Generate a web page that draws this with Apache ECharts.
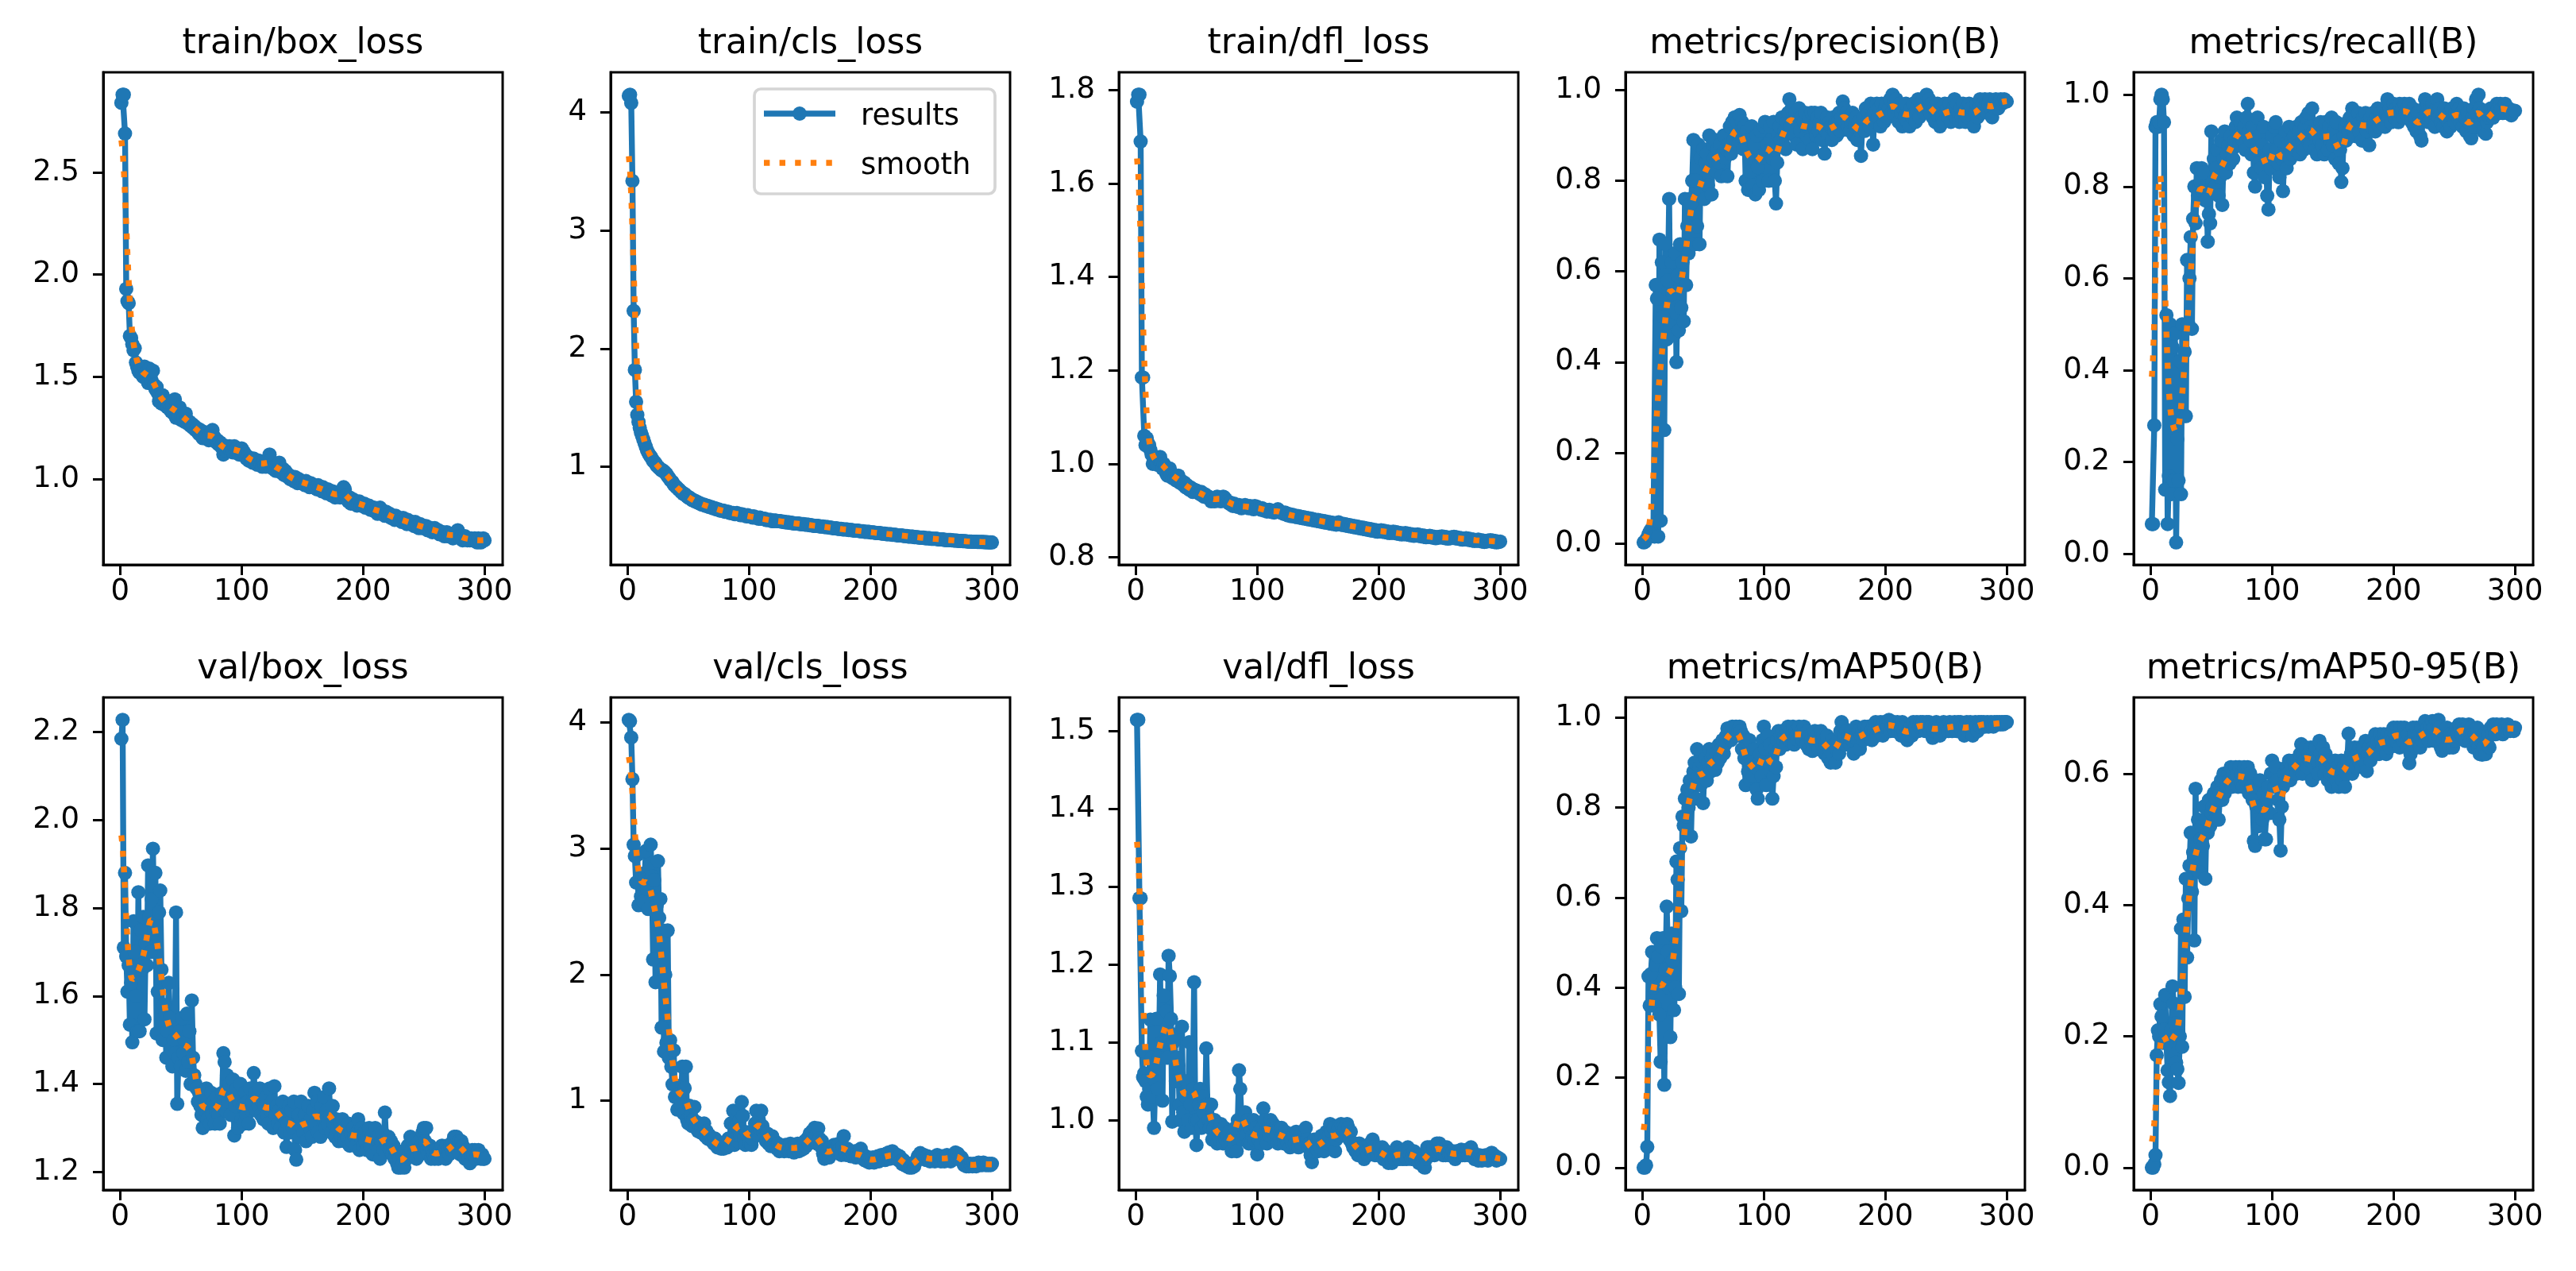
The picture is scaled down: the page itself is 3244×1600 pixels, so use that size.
<!DOCTYPE html>
<html>
<head>
<meta charset="utf-8">
<script src="https://cdn.jsdelivr.net/npm/echarts@6/dist/echarts.min.js"></script>
<style>
  html, body { margin: 0; padding: 0; background: #fff; }
  #main { width: 3244px; height: 1600px; }
</style>
</head>
<body>
<div id="main"></div>
<script>
// epochs 1..300 (x values)
const epochs = Array.from({ length: 300 }, (_, i) => i + 1);

const titles = ['train/box_loss', 'train/cls_loss', 'train/dfl_loss', 'metrics/precision(B)', 'metrics/recall(B)',
  'val/box_loss', 'val/cls_loss', 'val/dfl_loss', 'metrics/mAP50(B)', 'metrics/mAP50-95(B)'];

const xTicks = [0, 100, 200, 300];

// y tick values per subplot and number of decimals shown
const yTicks = [
  [1.0, 1.5, 2.0, 2.5],
  [1, 2, 3, 4],
  [0.8, 1.0, 1.2, 1.4, 1.6, 1.8],
  [0.0, 0.2, 0.4, 0.6, 0.8, 1.0],
  [0.0, 0.2, 0.4, 0.6, 0.8, 1.0],
  [1.2, 1.4, 1.6, 1.8, 2.0, 2.2],
  [1, 2, 3, 4],
  [1.0, 1.1, 1.2, 1.3, 1.4, 1.5],
  [0.0, 0.2, 0.4, 0.6, 0.8, 1.0],
  [0.0, 0.2, 0.4, 0.6]
];
const yDecimals = [1, 0, 1, 1, 1, 1, 0, 1, 1, 1];

const legendNames = ['results', 'smooth'];

const trainBoxLoss = [
  2.84, 2.88, 2.88, 2.69, 1.93, 1.87, 1.86, 1.70, 1.69, 1.66,
  1.63, 1.64, 1.57, 1.55, 1.53, 1.52, 1.54, 1.51, 1.50, 1.55,
  1.52, 1.49, 1.47, 1.54, 1.50, 1.48, 1.53, 1.46, 1.44, 1.45,
  1.42, 1.38, 1.40, 1.37, 1.41, 1.39, 1.36, 1.38, 1.35, 1.37,
  1.34, 1.33, 1.36, 1.32, 1.39, 1.30, 1.33, 1.31, 1.35, 1.29,
  1.31, 1.30, 1.28, 1.32, 1.29, 1.27, 1.28, 1.26, 1.27, 1.25,
  1.26, 1.24, 1.25, 1.23, 1.22, 1.24, 1.21, 1.20, 1.23, 1.22,
  1.21, 1.20, 1.19, 1.22, 1.23, 1.24, 1.21, 1.20, 1.18, 1.19,
  1.17, 1.18, 1.16, 1.17, 1.12, 1.15, 1.14, 1.16, 1.15, 1.16,
  1.14, 1.15, 1.13, 1.16, 1.14, 1.15, 1.13, 1.12, 1.14, 1.15,
  1.14, 1.13, 1.12, 1.10, 1.11, 1.09, 1.10, 1.09, 1.08, 1.10,
  1.09, 1.08, 1.07, 1.09, 1.08, 1.07, 1.06, 1.08, 1.07, 1.06,
  1.08, 1.10, 1.12, 1.09, 1.07, 1.05, 1.06, 1.04, 1.06, 1.05,
  1.08, 1.04, 1.03, 1.05, 1.02, 1.04, 1.03, 1.01, 1.02, 1.00,
  1.01, 1.00, 0.99, 1.01, 0.99, 0.98, 1.00, 0.99, 0.98, 0.99,
  0.98, 0.97, 0.99, 0.98, 0.97, 0.96, 0.98, 0.97, 0.96, 0.97,
  0.96, 0.95, 0.97, 0.96, 0.95, 0.94, 0.96, 0.95, 0.94, 0.93,
  0.95, 0.94, 0.93, 0.92, 0.94, 0.93, 0.91, 0.92, 0.93, 0.92,
  0.91, 0.93, 0.94, 0.96, 0.95, 0.92, 0.90, 0.89, 0.91, 0.88,
  0.89, 0.90, 0.88, 0.89, 0.87, 0.88, 0.89, 0.87, 0.88, 0.87,
  0.88, 0.86, 0.87, 0.86, 0.87, 0.85, 0.86, 0.85, 0.86, 0.84,
  0.85, 0.83, 0.84, 0.86, 0.85, 0.84, 0.83, 0.82, 0.84, 0.83,
  0.82, 0.83, 0.81, 0.82, 0.81, 0.80, 0.82, 0.81, 0.80, 0.81,
  0.80, 0.79, 0.81, 0.80, 0.79, 0.78, 0.80, 0.79, 0.78, 0.79,
  0.78, 0.77, 0.79, 0.78, 0.77, 0.76, 0.78, 0.77, 0.76, 0.77,
  0.76, 0.77, 0.75, 0.76, 0.75, 0.76, 0.74, 0.75, 0.76, 0.75,
  0.74, 0.75, 0.73, 0.74, 0.73, 0.74, 0.72, 0.73, 0.74, 0.72,
  0.73, 0.72, 0.73, 0.71, 0.72, 0.73, 0.74, 0.75, 0.72, 0.71,
  0.72, 0.70, 0.71, 0.72, 0.71, 0.70, 0.71, 0.70, 0.71, 0.70,
  0.70, 0.71, 0.70, 0.69, 0.71, 0.70, 0.69, 0.70, 0.71, 0.70
];

const trainClsLoss = [
  4.14, 4.15, 4.08, 3.42, 2.32, 1.82, 1.55, 1.44, 1.38, 1.33,
  1.29, 1.26, 1.23, 1.20, 1.17, 1.14, 1.12, 1.10, 1.09, 1.07,
  1.05, 1.04, 1.03, 1.01, 1.00, 0.99, 0.98, 0.97, 0.97, 0.96,
  0.95, 0.94, 0.92, 0.91, 0.89, 0.88, 0.87, 0.85, 0.84, 0.83,
  0.82, 0.81, 0.80, 0.79, 0.78, 0.77, 0.77, 0.76, 0.75, 0.74,
  0.74, 0.73, 0.72, 0.72, 0.71, 0.71, 0.70, 0.70, 0.69, 0.69,
  0.68, 0.68, 0.68, 0.67, 0.67, 0.67, 0.66, 0.66, 0.66, 0.65,
  0.65, 0.65, 0.64, 0.64, 0.64, 0.63, 0.63, 0.63, 0.63, 0.62,
  0.62, 0.62, 0.62, 0.61, 0.61, 0.61, 0.61, 0.60, 0.60, 0.61,
  0.60, 0.60, 0.59, 0.60, 0.59, 0.59, 0.59, 0.58, 0.59, 0.58,
  0.58, 0.58, 0.57, 0.58, 0.57, 0.57, 0.57, 0.56, 0.57, 0.56,
  0.56, 0.56, 0.56, 0.55, 0.55, 0.55, 0.55, 0.55, 0.54, 0.54,
  0.545, 0.545, 0.54, 0.54, 0.54, 0.54, 0.535, 0.535, 0.535, 0.53,
  0.53, 0.53, 0.53, 0.525, 0.525, 0.525, 0.52, 0.52, 0.52, 0.52,
  0.52, 0.515, 0.515, 0.515, 0.515, 0.51, 0.51, 0.51, 0.51, 0.505,
  0.505, 0.505, 0.50, 0.50, 0.50, 0.50, 0.50, 0.495, 0.495, 0.495,
  0.495, 0.49, 0.49, 0.49, 0.49, 0.485, 0.485, 0.485, 0.48, 0.48,
  0.48, 0.48, 0.475, 0.475, 0.475, 0.475, 0.47, 0.47, 0.47, 0.47,
  0.47, 0.465, 0.465, 0.465, 0.465, 0.46, 0.46, 0.46, 0.46, 0.46,
  0.455, 0.455, 0.455, 0.455, 0.45, 0.45, 0.45, 0.45, 0.45, 0.445,
  0.445, 0.445, 0.445, 0.44, 0.44, 0.44, 0.44, 0.44, 0.435, 0.435,
  0.435, 0.435, 0.43, 0.43, 0.43, 0.43, 0.43, 0.425, 0.425, 0.425,
  0.425, 0.42, 0.42, 0.42, 0.42, 0.42, 0.415, 0.415, 0.415, 0.415,
  0.41, 0.41, 0.41, 0.41, 0.41, 0.405, 0.405, 0.405, 0.405, 0.40,
  0.40, 0.40, 0.40, 0.40, 0.395, 0.395, 0.395, 0.395, 0.395, 0.39,
  0.39, 0.39, 0.39, 0.39, 0.39, 0.385, 0.385, 0.385, 0.385, 0.385,
  0.38, 0.38, 0.38, 0.38, 0.38, 0.38, 0.378, 0.377, 0.376, 0.375,
  0.375, 0.374, 0.373, 0.372, 0.372, 0.371, 0.37, 0.37, 0.369, 0.368,
  0.368, 0.367, 0.367, 0.366, 0.366, 0.365, 0.365, 0.364, 0.364, 0.364,
  0.363, 0.363, 0.363, 0.362, 0.362, 0.362, 0.361, 0.361, 0.361, 0.36
];

const trainDflLoss = [
  1.775, 1.79, 1.79, 1.69, 1.185, 1.185, 1.06, 1.04, 1.055, 1.045,
  1.04, 1.03, 1.02, 1.00, 1.01, 1.005, 1.00, 0.998, 1.01, 1.015,
  1.005, 0.99, 1.00, 0.995, 0.98, 0.975, 0.985, 0.99, 0.98, 0.97,
  0.975, 0.97, 0.965, 0.97, 0.975, 0.96, 0.965, 0.96, 0.955, 0.96,
  0.95, 0.955, 0.95, 0.945, 0.95, 0.945, 0.94, 0.945, 0.94, 0.943,
  0.94, 0.938, 0.935, 0.94, 0.935, 0.93, 0.935, 0.93, 0.928, 0.93,
  0.926, 0.92, 0.925, 0.922, 0.92, 0.925, 0.93, 0.928, 0.925, 0.92,
  0.925, 0.93, 0.928, 0.924, 0.92, 0.918, 0.915, 0.917, 0.912, 0.91,
  0.915, 0.912, 0.91, 0.908, 0.912, 0.91, 0.905, 0.91, 0.908, 0.912,
  0.91, 0.908, 0.905, 0.91, 0.907, 0.905, 0.903, 0.91, 0.905, 0.908,
  0.906, 0.904, 0.902, 0.905, 0.903, 0.9, 0.902, 0.898, 0.9, 0.902,
  0.9, 0.897, 0.899, 0.896, 0.898, 0.9, 0.903, 0.9, 0.897, 0.895,
  0.895, 0.893, 0.896, 0.892, 0.89, 0.893, 0.89, 0.888, 0.891, 0.889,
  0.887, 0.889, 0.886, 0.888, 0.885, 0.887, 0.884, 0.886, 0.883, 0.885,
  0.882, 0.884, 0.881, 0.883, 0.88, 0.882, 0.879, 0.88, 0.878, 0.88,
  0.877, 0.879, 0.876, 0.878, 0.875, 0.877, 0.874, 0.876, 0.873, 0.875,
  0.872, 0.874, 0.871, 0.873, 0.87, 0.872, 0.875, 0.873, 0.87, 0.872,
  0.869, 0.871, 0.868, 0.87, 0.867, 0.869, 0.866, 0.868, 0.865, 0.867,
  0.864, 0.866, 0.863, 0.865, 0.862, 0.864, 0.861, 0.863, 0.86, 0.862,
  0.859, 0.861, 0.858, 0.86, 0.857, 0.859, 0.856, 0.858, 0.855, 0.857,
  0.856, 0.858, 0.855, 0.857, 0.854, 0.856, 0.853, 0.855, 0.852, 0.854,
  0.853, 0.855, 0.852, 0.854, 0.851, 0.853, 0.85, 0.852, 0.849, 0.851,
  0.85, 0.852, 0.849, 0.851, 0.848, 0.85, 0.847, 0.849, 0.846, 0.848,
  0.847, 0.849, 0.846, 0.848, 0.845, 0.847, 0.844, 0.846, 0.843, 0.845,
  0.844, 0.846, 0.843, 0.845, 0.842, 0.844, 0.841, 0.843, 0.842, 0.844,
  0.843, 0.845, 0.842, 0.844, 0.841, 0.843, 0.84, 0.842, 0.841, 0.843,
  0.842, 0.844, 0.841, 0.843, 0.84, 0.842, 0.839, 0.841, 0.838, 0.84,
  0.839, 0.841, 0.838, 0.84, 0.837, 0.839, 0.836, 0.838, 0.835, 0.837,
  0.836, 0.838, 0.835, 0.837, 0.834, 0.836, 0.833, 0.835, 0.834, 0.836,
  0.835, 0.837, 0.834, 0.836, 0.833, 0.835, 0.832, 0.834, 0.833, 0.834
];

const precision = [
  0.002, 0.003, 0.008, 0.012, 0.020, 0.025, 0.030, 0.022, 0.018, 0.015,
  0.57, 0.54, 0.015, 0.67, 0.05, 0.62, 0.50, 0.25, 0.66, 0.45,
  0.58, 0.76, 0.48, 0.62, 0.55, 0.46, 0.64, 0.40, 0.59, 0.47,
  0.66, 0.52, 0.62, 0.49, 0.76, 0.57, 0.70, 0.64, 0.76, 0.75,
  0.80, 0.89, 0.66, 0.80, 0.70, 0.88, 0.66, 0.85, 0.78, 0.87,
  0.76, 0.84, 0.86, 0.79, 0.90, 0.83, 0.77, 0.88, 0.85, 0.89,
  0.82, 0.87, 0.84, 0.88, 0.81, 0.86, 0.90, 0.85, 0.87, 0.81,
  0.88, 0.92, 0.86, 0.93, 0.89, 0.94, 0.91, 0.93, 0.88, 0.945,
  0.90, 0.93, 0.87, 0.92, 0.80, 0.91, 0.78, 0.89, 0.82, 0.92,
  0.79, 0.88, 0.77, 0.90, 0.83, 0.78, 0.91, 0.85, 0.80, 0.92,
  0.93, 0.86, 0.88, 0.80, 0.92, 0.87, 0.85, 0.93, 0.80, 0.75,
  0.84, 0.90, 0.92, 0.89, 0.94, 0.88, 0.91, 0.87, 0.93, 0.95,
  0.98, 0.92, 0.96, 0.94, 0.90, 0.95, 0.88, 0.93, 0.96, 0.91,
  0.94, 0.87, 0.93, 0.95, 0.90, 0.92, 0.94, 0.89, 0.95, 0.87,
  0.92, 0.95, 0.90, 0.94, 0.91, 0.93, 0.95, 0.89, 0.92, 0.86,
  0.91, 0.94, 0.90, 0.93, 0.92, 0.89, 0.94, 0.91, 0.93, 0.90,
  0.93, 0.95, 0.91, 0.94, 0.975, 0.96, 0.93, 0.95, 0.92, 0.94,
  0.91, 0.93, 0.95, 0.90, 0.92, 0.94, 0.89, 0.93, 0.91, 0.855,
  0.92, 0.94, 0.91, 0.96, 0.93, 0.95, 0.92, 0.97, 0.94, 0.88,
  0.95, 0.93, 0.97, 0.94, 0.96, 0.92, 0.97, 0.95, 0.93, 0.96,
  0.97, 0.94, 0.96, 0.98, 0.95, 0.99, 0.97, 0.95, 0.98, 0.96,
  0.93, 0.97, 0.95, 0.92, 0.96, 0.94, 0.97, 0.93, 0.95, 0.92,
  0.96, 0.94, 0.97, 0.95, 0.93, 0.96, 0.98, 0.94, 0.97, 0.96,
  0.98, 0.95, 0.97, 0.99, 0.96, 0.98, 0.95, 0.97, 0.94, 0.96,
  0.93, 0.95, 0.97, 0.94, 0.92, 0.96, 0.94, 0.93, 0.97, 0.95,
  0.96, 0.94, 0.97, 0.93, 0.95, 0.96, 0.98, 0.94, 0.97, 0.95,
  0.93, 0.96, 0.94, 0.97, 0.95, 0.93, 0.96, 0.94, 0.97, 0.95,
  0.96, 0.94, 0.92, 0.95, 0.97, 0.94, 0.96, 0.98, 0.95, 0.97,
  0.96, 0.98, 0.97, 0.95, 0.97, 0.98, 0.96, 0.94, 0.97, 0.96,
  0.98, 0.97, 0.96, 0.975, 0.98, 0.97, 0.975, 0.98, 0.975, 0.975
];

const recall = [
  0.065, 0.065, 0.28, 0.93, 0.94, 0.93, 0.94, 0.99, 1.0, 0.99,
  0.94, 0.14, 0.52, 0.065, 0.17, 0.50, 0.13, 0.45, 0.16, 0.48,
  0.025, 0.25, 0.16, 0.42, 0.13, 0.50, 0.30, 0.44, 0.30, 0.64,
  0.50, 0.60, 0.69, 0.49, 0.73, 0.80, 0.72, 0.84, 0.78, 0.80,
  0.81, 0.84, 0.79, 0.83, 0.77, 0.80, 0.68, 0.74, 0.72, 0.92,
  0.81, 0.86, 0.80, 0.84, 0.88, 0.78, 0.82, 0.90, 0.76, 0.86,
  0.92, 0.83, 0.87, 0.89, 0.85, 0.91, 0.88, 0.86, 0.90, 0.93,
  0.95, 0.91, 0.89, 0.94, 0.92, 0.90, 0.93, 0.88, 0.95, 0.98,
  0.92, 0.90, 0.87, 0.93, 0.83, 0.80, 0.88, 0.95, 0.85, 0.91,
  0.84, 0.89, 0.93, 0.82, 0.87, 0.78, 0.75, 0.88, 0.84, 0.91,
  0.86, 0.93, 0.94, 0.88, 0.85, 0.82, 0.90, 0.86, 0.79, 0.87,
  0.92, 0.84, 0.89, 0.93, 0.86, 0.90, 0.87, 0.91, 0.88, 0.93,
  0.89, 0.92, 0.87, 0.94, 0.90, 0.88, 0.93, 0.95, 0.91, 0.96,
  0.89, 0.93, 0.97, 0.92, 0.88, 0.91, 0.87, 0.93, 0.90, 0.94,
  0.89, 0.92, 0.87, 0.94, 0.91, 0.88, 0.93, 0.90, 0.95, 0.89,
  0.92, 0.86, 0.94, 0.90, 0.85, 0.88, 0.81, 0.84, 0.91, 0.93,
  0.90, 0.94, 0.92, 0.95, 0.93, 0.97, 0.94, 0.91, 0.95, 0.93,
  0.96, 0.92, 0.94, 0.90, 0.95, 0.93, 0.96, 0.92, 0.94, 0.89,
  0.95, 0.93, 0.96, 0.94, 0.92, 0.95, 0.97, 0.93, 0.96, 0.94,
  0.95, 0.97, 0.93, 0.96, 0.99, 0.95, 0.97, 0.94, 0.96, 0.98,
  0.95, 0.97, 0.96, 0.94, 0.98, 0.96, 0.97, 0.95, 0.98, 0.96,
  0.97, 0.95, 0.98, 0.96, 0.94, 0.97, 0.93, 0.95, 0.92, 0.96,
  0.94, 0.91, 0.90, 0.95, 0.97, 0.99, 0.96, 0.98, 0.94, 0.97,
  0.95, 0.98, 0.96, 0.93, 0.97, 0.99, 0.95, 0.97, 0.94, 0.96,
  0.93, 0.97, 0.95, 0.92, 0.94, 0.96, 0.93, 0.97, 0.95, 0.94,
  0.96, 0.98, 0.95, 0.97, 0.94, 0.96, 0.93, 0.97, 0.95, 0.92,
  0.96, 0.94, 0.91, 0.905, 0.95, 0.97, 0.93, 0.99, 0.96, 1.0,
  0.97, 0.94, 0.96, 0.92, 0.95, 0.915, 0.94, 0.96, 0.95, 0.97,
  0.96, 0.95, 0.97, 0.96, 0.98, 0.97, 0.96, 0.98, 0.97, 0.96,
  0.97, 0.98, 0.97, 0.96, 0.97, 0.96, 0.955, 0.96, 0.965, 0.965
];

const valBoxLoss = [
  2.185, 2.228, 1.71, 1.88, 1.69, 1.61, 1.67, 1.535, 1.63, 1.495,
  1.77, 1.70, 1.60, 1.52, 1.836, 1.52, 1.75, 1.66, 1.78, 1.547,
  1.72, 1.67, 1.897, 1.78, 1.70, 1.82, 1.935, 1.75, 1.88, 1.515,
  1.61, 1.79, 1.84, 1.66, 1.50, 1.58, 1.56, 1.46, 1.52, 1.63,
  1.55, 1.48, 1.44, 1.50, 1.47, 1.79, 1.355, 1.46, 1.52, 1.44,
  1.55, 1.47, 1.50, 1.43, 1.56, 1.45, 1.52, 1.40, 1.59, 1.46,
  1.42, 1.40, 1.39, 1.36, 1.38, 1.35, 1.33, 1.30, 1.37, 1.34,
  1.39, 1.32, 1.35, 1.31, 1.38, 1.33, 1.36, 1.31, 1.34, 1.37,
  1.33, 1.31, 1.36, 1.38, 1.47, 1.45, 1.34, 1.42, 1.36, 1.40,
  1.33, 1.37, 1.41, 1.283, 1.35, 1.39, 1.30, 1.36, 1.40, 1.32,
  1.35, 1.31, 1.38, 1.33, 1.36, 1.31, 1.39, 1.34, 1.36, 1.425,
  1.38, 1.34, 1.37, 1.35, 1.39, 1.33, 1.36, 1.32, 1.35, 1.37,
  1.33, 1.31, 1.39, 1.34, 1.36, 1.30, 1.395, 1.33, 1.35, 1.31,
  1.34, 1.30, 1.33, 1.36, 1.29, 1.32, 1.257, 1.31, 1.35, 1.29,
  1.34, 1.30, 1.36, 1.25, 1.228, 1.31, 1.33, 1.28, 1.36, 1.30,
  1.29, 1.33, 1.27, 1.31, 1.35, 1.30, 1.32, 1.28, 1.34, 1.38,
  1.31, 1.36, 1.29, 1.33, 1.28, 1.35, 1.32, 1.37, 1.30, 1.34,
  1.31, 1.39, 1.33, 1.29, 1.35, 1.31, 1.28, 1.32, 1.30, 1.27,
  1.31, 1.28, 1.32, 1.29, 1.27, 1.30, 1.28, 1.31, 1.26, 1.29,
  1.27, 1.30, 1.28, 1.26, 1.29, 1.32, 1.25, 1.28, 1.30, 1.26,
  1.29, 1.27, 1.25, 1.28, 1.30, 1.26, 1.28, 1.24, 1.27, 1.30,
  1.26, 1.28, 1.25, 1.23, 1.27, 1.29, 1.25, 1.335, 1.27, 1.26,
  1.28, 1.25, 1.27, 1.24, 1.26, 1.23, 1.25, 1.22, 1.21, 1.23,
  1.21, 1.24, 1.22, 1.21, 1.25, 1.23, 1.26, 1.24, 1.28, 1.25,
  1.27, 1.24, 1.26, 1.23, 1.25, 1.27, 1.24, 1.26, 1.29, 1.30,
  1.27, 1.30, 1.25, 1.24, 1.26, 1.23, 1.25, 1.24, 1.23, 1.25,
  1.24, 1.23, 1.25, 1.24, 1.26, 1.24, 1.25, 1.23, 1.26, 1.25,
  1.24, 1.26, 1.25, 1.27, 1.28, 1.26, 1.28, 1.25, 1.27, 1.24,
  1.27, 1.26, 1.24, 1.23, 1.25, 1.24, 1.23, 1.22, 1.24, 1.25,
  1.24, 1.25, 1.23, 1.24, 1.25, 1.24, 1.23, 1.24, 1.23, 1.23
];

const valClsLoss = [
  4.02, 4.01, 3.88, 3.55, 3.03, 2.94, 2.73, 2.95, 2.55, 2.72,
  2.62, 2.80, 2.58, 2.75, 2.98, 2.68, 2.52, 2.85, 3.03, 2.78,
  2.12, 2.75, 1.94, 2.55, 2.90, 2.45, 2.60, 1.58, 2.35, 1.39,
  2.00, 1.46, 2.35, 1.34, 1.48, 1.27, 1.13, 1.40, 1.03, 1.12,
  0.93, 1.05, 1.00, 0.97, 1.27, 0.90, 1.10, 1.27, 0.85, 0.82,
  0.96, 0.88, 0.80, 0.85, 0.95, 0.79, 0.83, 0.76, 0.81, 0.75,
  0.78, 0.74, 0.82, 0.72, 0.76, 0.70, 0.73, 0.69, 0.71, 0.68,
  0.66, 0.70, 0.65, 0.63, 0.67, 0.64, 0.62, 0.64, 0.62, 0.63,
  0.66, 0.63, 0.70, 0.65, 0.82, 0.69, 0.92, 0.65, 0.80, 0.68,
  0.92, 0.84, 0.72, 0.99, 0.88, 0.70, 0.65, 0.75, 0.72, 0.67,
  0.74, 0.65, 0.70, 0.77, 0.82, 0.92, 0.73, 0.85, 0.78, 0.92,
  0.80, 0.75, 0.71, 0.68, 0.74, 0.66, 0.69, 0.64, 0.72, 0.66,
  0.68, 0.64, 0.62, 0.66, 0.60, 0.64, 0.61, 0.63, 0.60, 0.65,
  0.62, 0.64, 0.60, 0.66, 0.61, 0.63, 0.59, 0.65, 0.62, 0.66,
  0.60, 0.63, 0.61, 0.65, 0.62, 0.68, 0.64, 0.70, 0.66, 0.74,
  0.68, 0.76, 0.70, 0.785, 0.72, 0.66, 0.78, 0.70, 0.64, 0.68,
  0.58, 0.54, 0.62, 0.56, 0.60, 0.55, 0.63, 0.58, 0.61, 0.65,
  0.60, 0.64, 0.59, 0.66, 0.62, 0.57, 0.64, 0.72, 0.60, 0.57,
  0.62, 0.58, 0.60, 0.56, 0.59, 0.57, 0.60, 0.55, 0.58, 0.56,
  0.58, 0.62, 0.55, 0.57, 0.53, 0.56, 0.52, 0.55, 0.51, 0.54,
  0.52, 0.55, 0.51, 0.54, 0.53, 0.56, 0.52, 0.55, 0.57, 0.54,
  0.56, 0.53, 0.58, 0.55, 0.59, 0.54, 0.57, 0.60, 0.56, 0.58,
  0.55, 0.57, 0.53, 0.56, 0.52, 0.50, 0.53, 0.49, 0.51, 0.48,
  0.50, 0.47, 0.49, 0.47, 0.50, 0.48, 0.51, 0.53, 0.56, 0.55,
  0.585, 0.56, 0.54, 0.57, 0.55, 0.53, 0.56, 0.54, 0.52, 0.55,
  0.53, 0.55, 0.52, 0.54, 0.57, 0.53, 0.55, 0.52, 0.56, 0.54,
  0.52, 0.55, 0.57, 0.53, 0.55, 0.52, 0.56, 0.54, 0.57, 0.59,
  0.55, 0.58, 0.56, 0.53, 0.55, 0.52, 0.49, 0.51, 0.48, 0.50,
  0.48, 0.50, 0.49, 0.48, 0.50, 0.49, 0.48, 0.50, 0.51, 0.49,
  0.50, 0.49, 0.51, 0.50, 0.49, 0.50, 0.49, 0.50, 0.49, 0.50
];

const valDflLoss = [
  1.514, 1.514, 1.285, 1.285, 1.089, 1.055, 1.06, 1.05, 1.03, 1.02,
  1.04, 1.129, 1.08, 1.03, 0.99, 1.05, 1.13, 1.04, 1.08, 1.187,
  1.10, 1.025, 1.16, 1.10, 1.14, 1.08, 1.211, 1.185, 1.13, 0.998,
  1.10, 1.11, 1.05, 1.08, 1.07, 1.02, 1.00, 1.12, 1.01, 0.985,
  1.03, 1.05, 1.00, 1.10, 1.02, 0.99, 1.04, 1.177, 1.00, 0.968,
  1.00, 1.02, 1.04, 0.99, 1.03, 1.01, 0.995, 1.092, 1.02, 1.00,
  0.99, 1.02, 0.975, 0.99, 1.00, 0.98, 0.97, 0.985, 0.975, 0.995,
  0.98, 0.97, 0.99, 0.975, 0.98, 0.97, 0.985, 0.975, 0.96, 0.98,
  0.97, 0.99, 0.96, 1.00, 1.064, 1.04, 1.00, 0.975, 0.99, 1.01,
  0.98, 1.00, 0.97, 0.99, 0.97, 0.98, 1.00, 0.975, 0.99, 0.956,
  0.975, 0.985, 0.97, 0.99, 1.015, 1.00, 0.985, 0.97, 0.99, 0.98,
  1.00, 0.985, 0.995, 0.975, 0.99, 0.98, 0.97, 0.99, 0.975, 0.99,
  0.98, 0.97, 0.985, 0.975, 0.97, 0.98, 0.965, 0.975, 0.97, 0.98,
  0.97, 0.985, 0.975, 0.965, 0.98, 0.97, 0.985, 0.975, 0.98, 0.99,
  0.975, 0.965, 0.97, 0.955, 0.946, 0.96, 0.975, 0.965, 0.97, 0.96,
  0.975, 0.965, 0.98, 0.97, 0.96, 0.975, 0.985, 0.97, 0.98, 0.995,
  0.985, 0.97, 0.99, 0.96, 0.975, 0.985, 0.99, 0.98, 0.995, 0.99,
  0.985, 0.99, 0.98, 0.995, 0.99, 0.975, 0.985, 0.97, 0.965, 0.97,
  0.96, 0.965, 0.955, 0.97, 0.955, 0.965, 0.96, 0.95, 0.965, 0.96,
  0.955, 0.965, 0.97, 0.96, 0.975, 0.965, 0.955, 0.96, 0.955, 0.965,
  0.96, 0.955, 0.965, 0.95, 0.955, 0.96, 0.95, 0.945, 0.955, 0.95,
  0.945, 0.955, 0.95, 0.96, 0.965, 0.955, 0.95, 0.96, 0.955, 0.95,
  0.955, 0.96, 0.95, 0.965, 0.96, 0.955, 0.95, 0.955, 0.96, 0.95,
  0.955, 0.95, 0.945, 0.955, 0.95, 0.945, 0.94, 0.939, 0.95, 0.965,
  0.96, 0.965, 0.955, 0.96, 0.965, 0.955, 0.96, 0.97, 0.965, 0.97,
  0.96, 0.965, 0.955, 0.96, 0.955, 0.965, 0.96, 0.955, 0.96, 0.955,
  0.96, 0.955, 0.95, 0.96, 0.955, 0.96, 0.955, 0.962, 0.955, 0.96,
  0.955, 0.96, 0.962, 0.955, 0.962, 0.965, 0.96, 0.955, 0.95, 0.955,
  0.95, 0.948, 0.955, 0.95, 0.948, 0.952, 0.95, 0.955, 0.95, 0.948,
  0.952, 0.955, 0.958, 0.952, 0.955, 0.95, 0.948, 0.952, 0.95, 0.95
];

const mAP50 = [
  0.0, 0.0, 0.005, 0.046, 0.425, 0.36, 0.43, 0.479, 0.40, 0.36,
  0.45, 0.51, 0.47, 0.34, 0.235, 0.49, 0.51, 0.184, 0.44, 0.58,
  0.48, 0.40, 0.29, 0.52, 0.46, 0.35, 0.40, 0.68, 0.64, 0.386,
  0.71, 0.57, 0.78, 0.76, 0.82, 0.78, 0.84, 0.80, 0.86, 0.736,
  0.85, 0.88, 0.90, 0.82, 0.93, 0.87, 0.89, 0.85, 0.90, 0.81,
  0.88, 0.91, 0.86, 0.90, 0.93, 0.88, 0.91, 0.92, 0.89, 0.884,
  0.92, 0.90, 0.94, 0.91, 0.93, 0.95, 0.92, 0.94, 0.96, 0.976,
  0.96, 0.97, 0.95, 0.98, 0.96, 0.97, 0.98, 0.96, 0.97, 0.98,
  0.97, 0.93, 0.96, 0.91, 0.85, 0.92, 0.88, 0.95, 0.86, 0.90,
  0.87, 0.93, 0.89, 0.84, 0.82, 0.90, 0.92, 0.87, 0.95, 0.98,
  0.93, 0.85, 0.96, 0.90, 0.94, 0.88, 0.82, 0.87, 0.93, 0.89,
  0.95, 0.97, 0.93, 0.96, 0.97, 0.95, 0.96, 0.94, 0.97, 0.98,
  0.95, 0.97, 0.96, 0.98, 0.94, 0.97, 0.96, 0.95, 0.98, 0.96,
  0.97, 0.95, 0.98, 0.96, 0.94, 0.97, 0.93, 0.96, 0.95, 0.926,
  0.95, 0.97, 0.94, 0.96, 0.93, 0.95, 0.97, 0.94, 0.96, 0.92,
  0.94, 0.96, 0.91, 0.93, 0.90, 0.95, 0.92, 0.94, 0.90, 0.93,
  0.95, 0.92, 0.97, 0.99, 0.98, 0.96, 0.94, 0.97, 0.95, 0.96,
  0.94, 0.97, 0.95, 0.92, 0.96, 0.98, 0.95, 0.97, 0.93, 0.96,
  0.97, 0.95, 0.98, 0.96, 0.97, 0.98, 0.96, 0.97, 0.95, 0.98,
  0.97, 0.99, 0.96, 0.98, 0.97, 0.99, 0.98, 0.96, 0.99, 0.98,
  0.99, 0.98, 0.995, 0.97, 0.99, 0.98, 0.99, 0.97, 0.98, 0.99,
  0.97, 0.98, 0.96, 0.99, 0.97, 0.96, 0.98, 0.95, 0.97, 0.96,
  0.98, 0.96, 0.99, 0.97, 0.98, 0.99, 0.97, 0.98, 0.99, 0.98,
  0.99, 0.98, 0.97, 0.99, 0.98, 0.99, 0.97, 0.98, 0.955, 0.97,
  0.98, 0.99, 0.97, 0.98, 0.96, 0.98, 0.97, 0.99, 0.98, 0.97,
  0.98, 0.97, 0.99, 0.98, 0.97, 0.98, 0.99, 0.98, 0.97, 0.99,
  0.98, 0.99, 0.97, 0.98, 0.96, 0.98, 0.99, 0.97, 0.98, 0.99,
  0.98, 0.96, 0.98, 0.99, 0.98, 0.97, 0.99, 0.98, 0.99, 0.985,
  0.99, 0.98, 0.985, 0.99, 0.98, 0.985, 0.99, 0.985, 0.98, 0.99,
  0.985, 0.99, 0.985, 0.99, 0.985, 0.99, 0.985, 0.99, 0.99, 0.99
];

const mAP5095 = [
  0.0, 0.0, 0.005, 0.019, 0.171, 0.209, 0.20, 0.249, 0.23, 0.19,
  0.21, 0.263, 0.19, 0.148, 0.13, 0.109, 0.21, 0.276, 0.25, 0.22,
  0.16, 0.15, 0.129, 0.20, 0.364, 0.184, 0.378, 0.26, 0.44, 0.32,
  0.41, 0.46, 0.51, 0.42, 0.48, 0.346, 0.577, 0.49, 0.53, 0.45,
  0.50, 0.52, 0.49, 0.55, 0.44, 0.53, 0.51, 0.56, 0.52, 0.54,
  0.55, 0.57, 0.53, 0.56, 0.58, 0.53, 0.57, 0.59, 0.56, 0.60,
  0.57, 0.59, 0.58, 0.60, 0.59, 0.61, 0.58, 0.60, 0.59, 0.61,
  0.60, 0.58, 0.61, 0.59, 0.60, 0.58, 0.61, 0.59, 0.60, 0.61,
  0.57, 0.60, 0.58, 0.56, 0.4975, 0.49, 0.55, 0.58, 0.52, 0.59,
  0.55, 0.53, 0.57, 0.50, 0.50, 0.56, 0.58, 0.54, 0.60, 0.62,
  0.60, 0.58, 0.61, 0.59, 0.56, 0.53, 0.483, 0.55, 0.58, 0.60,
  0.59, 0.61, 0.60, 0.62, 0.59, 0.61, 0.60, 0.62, 0.61, 0.60,
  0.62, 0.61, 0.63, 0.645, 0.60, 0.63, 0.62, 0.64, 0.61, 0.63,
  0.62, 0.64, 0.59, 0.63, 0.61, 0.64, 0.62, 0.60, 0.65, 0.63,
  0.62, 0.64, 0.60, 0.63, 0.61, 0.59, 0.62, 0.60, 0.58, 0.61,
  0.60, 0.62, 0.59, 0.61, 0.58, 0.60, 0.62, 0.59, 0.61, 0.58,
  0.60, 0.62, 0.661, 0.61, 0.63, 0.60, 0.62, 0.64, 0.61, 0.63,
  0.62, 0.64, 0.63, 0.61, 0.64, 0.62, 0.65, 0.604, 0.63, 0.64,
  0.62, 0.65, 0.64, 0.63, 0.66, 0.64, 0.65, 0.63, 0.66, 0.65,
  0.64, 0.66, 0.65, 0.63, 0.66, 0.65, 0.64, 0.66, 0.65, 0.67,
  0.66, 0.65, 0.67, 0.66, 0.64, 0.67, 0.66, 0.65, 0.67, 0.66,
  0.64, 0.66, 0.616, 0.63, 0.65, 0.67, 0.66, 0.64, 0.67, 0.65,
  0.66, 0.64, 0.67, 0.65, 0.66, 0.68, 0.66, 0.67, 0.65, 0.67,
  0.66, 0.68, 0.67, 0.65, 0.68, 0.66, 0.682, 0.67, 0.64, 0.635,
  0.65, 0.66, 0.64, 0.67, 0.65, 0.64, 0.66, 0.65, 0.64, 0.66,
  0.65, 0.67, 0.66, 0.675, 0.67, 0.66, 0.675, 0.67, 0.65, 0.67,
  0.66, 0.675, 0.65, 0.67, 0.66, 0.64, 0.66, 0.65, 0.67, 0.64,
  0.63, 0.65, 0.629, 0.64, 0.66, 0.63, 0.65, 0.66, 0.64, 0.67,
  0.66, 0.675, 0.67, 0.66, 0.675, 0.67, 0.665, 0.67, 0.675, 0.66,
  0.67, 0.665, 0.67, 0.675, 0.67, 0.665, 0.67, 0.67, 0.665, 0.67
];

const seriesValues = [trainBoxLoss, trainClsLoss, trainDflLoss, precision, recall,
  valBoxLoss, valClsLoss, valDflLoss, mAP50, mAP5095];

seriesValues.forEach((arr, i) => {
  if (arr.length !== epochs.length) throw new Error(titles[i] + ' has ' + arr.length + ' values');
});

// same as scipy gaussian_filter1d(y, sigma=3), mode 'reflect'
function gaussianSmooth(y, sigma) {
  const r = Math.round(4 * sigma);
  const w = [];
  let s = 0;
  for (let k = -r; k <= r; k++) { const v = Math.exp(-k * k / (2 * sigma * sigma)); w.push(v); s += v; }
  const n = y.length;
  return y.map((_, i) => {
    let acc = 0;
    for (let k = -r; k <= r; k++) {
      let j = i + k;
      while (j < 0 || j >= n) j = j < 0 ? -j - 1 : 2 * n - j - 1;
      acc += w[k + r] / s * y[j];
    }
    return acc;
  });
}

// layout (px)
const colLeft = [130, 769, 1409, 2047, 2687];
const rowTop = [91, 878];
const plotW = 503, plotH = 620;
const titleY = [78, 865];
const blue = '#1f77b4', orange = '#ff7f0e';
const lineW = 7.4;
const dotted = [7.4, 12.2];
const fontFam = '"DejaVu Sans", sans-serif';

const chart = echarts.init(document.getElementById('main'));

const grids = [], xAxes = [], yAxes = [], series = [], graphics = [];
const xMin = epochs[0], xMax = epochs[epochs.length - 1];
const xPad = 0.05 * (xMax - xMin);

seriesValues.forEach((vals, i) => {
  const r = Math.floor(i / 5), c = i % 5;
  grids.push({
    left: colLeft[c], top: rowTop[r], width: plotW, height: plotH,
    show: true, borderColor: '#000', borderWidth: 3, backgroundColor: '#fff', containLabel: false
  });
  xAxes.push({
    type: 'value', gridIndex: i, min: xMin - xPad, max: xMax + xPad, position: 'bottom',
    axisLine: { show: true, onZero: false, lineStyle: { color: '#000', width: 3 } },
    splitLine: { show: false },
    axisTick: { show: true, inside: false, length: 13, customValues: xTicks, lineStyle: { color: '#000', width: 3 } },
    axisLabel: { inside: false, customValues: xTicks, margin: 16, color: '#000', fontSize: 37, fontFamily: fontFam }
  });
  const lo = Math.min(...vals), hi = Math.max(...vals);
  const pad = 0.05 * (hi - lo);
  const dec = yDecimals[i];
  yAxes.push({
    type: 'value', gridIndex: i, min: lo - pad, max: hi + pad, position: 'left',
    axisLine: { show: true, onZero: false, lineStyle: { color: '#000', width: 3 } },
    splitLine: { show: false },
    axisTick: { show: true, inside: false, length: 13, customValues: yTicks[i], lineStyle: { color: '#000', width: 3 } },
    axisLabel: {
      inside: false, customValues: yTicks[i], margin: 30, color: '#000', fontSize: 37, fontFamily: fontFam,
      formatter: v => Number(v).toFixed(dec)
    }
  });
  const smooth = gaussianSmooth(vals, 3);
  series.push({
    name: legendNames[0], type: 'line', xAxisIndex: i, yAxisIndex: i,
    data: epochs.map((e, j) => [e, vals[j]]),
    symbol: 'circle', symbolSize: 18, showSymbol: true,
    itemStyle: { color: blue },
    lineStyle: { color: blue, width: lineW, join: 'round' },
    z: 2, silent: true
  });
  series.push({
    name: legendNames[1], type: 'line', xAxisIndex: i, yAxisIndex: i,
    data: epochs.map((e, j) => [e, smooth[j]]),
    symbol: 'none', showSymbol: false,
    itemStyle: { color: orange },
    lineStyle: { color: orange, width: lineW, type: dotted, cap: 'butt' },
    z: 3, silent: true
  });
  graphics.push({
    type: 'text', x: colLeft[c] + plotW / 2, y: titleY[r],
    style: { text: titles[i], fill: '#000', font: '44px ' + fontFam, textAlign: 'center', textVerticalAlign: 'bottom' }
  });
});

// legend box drawn inside train/cls_loss (upper right)
const lg = { x: 950, y: 112, w: 303, h: 132, row: [143, 205], handle: [962, 1052], textX: 1084 };
graphics.push({
  type: 'rect', z: 100,
  shape: { x: lg.x, y: lg.y, width: lg.w, height: lg.h, r: 8 },
  style: { fill: 'rgba(255,255,255,0.8)', stroke: '#d5d5d5', lineWidth: 3.7 }
});
graphics.push({
  type: 'line', z: 101,
  shape: { x1: lg.handle[0], y1: lg.row[0], x2: lg.handle[1], y2: lg.row[0] },
  style: { stroke: blue, lineWidth: lineW }
});
graphics.push({
  type: 'circle', z: 102,
  shape: { cx: (lg.handle[0] + lg.handle[1]) / 2, cy: lg.row[0], r: 9 },
  style: { fill: blue }
});
graphics.push({
  type: 'line', z: 101,
  shape: { x1: lg.handle[0], y1: lg.row[1], x2: lg.handle[1], y2: lg.row[1] },
  style: { stroke: orange, lineWidth: lineW, lineDash: dotted, lineCap: 'butt' }
});
legendNames.forEach((name, k) => {
  graphics.push({
    type: 'text', z: 102, x: lg.textX, y: lg.row[k] + 4,
    style: { text: name, fill: '#000', font: '37px ' + fontFam, textAlign: 'left', textVerticalAlign: 'middle' }
  });
});

chart.setOption({
  animation: false,
  backgroundColor: '#fff',
  grid: grids,
  xAxis: xAxes,
  yAxis: yAxes,
  series: series,
  graphic: graphics
});
</script>
</body>
</html>
